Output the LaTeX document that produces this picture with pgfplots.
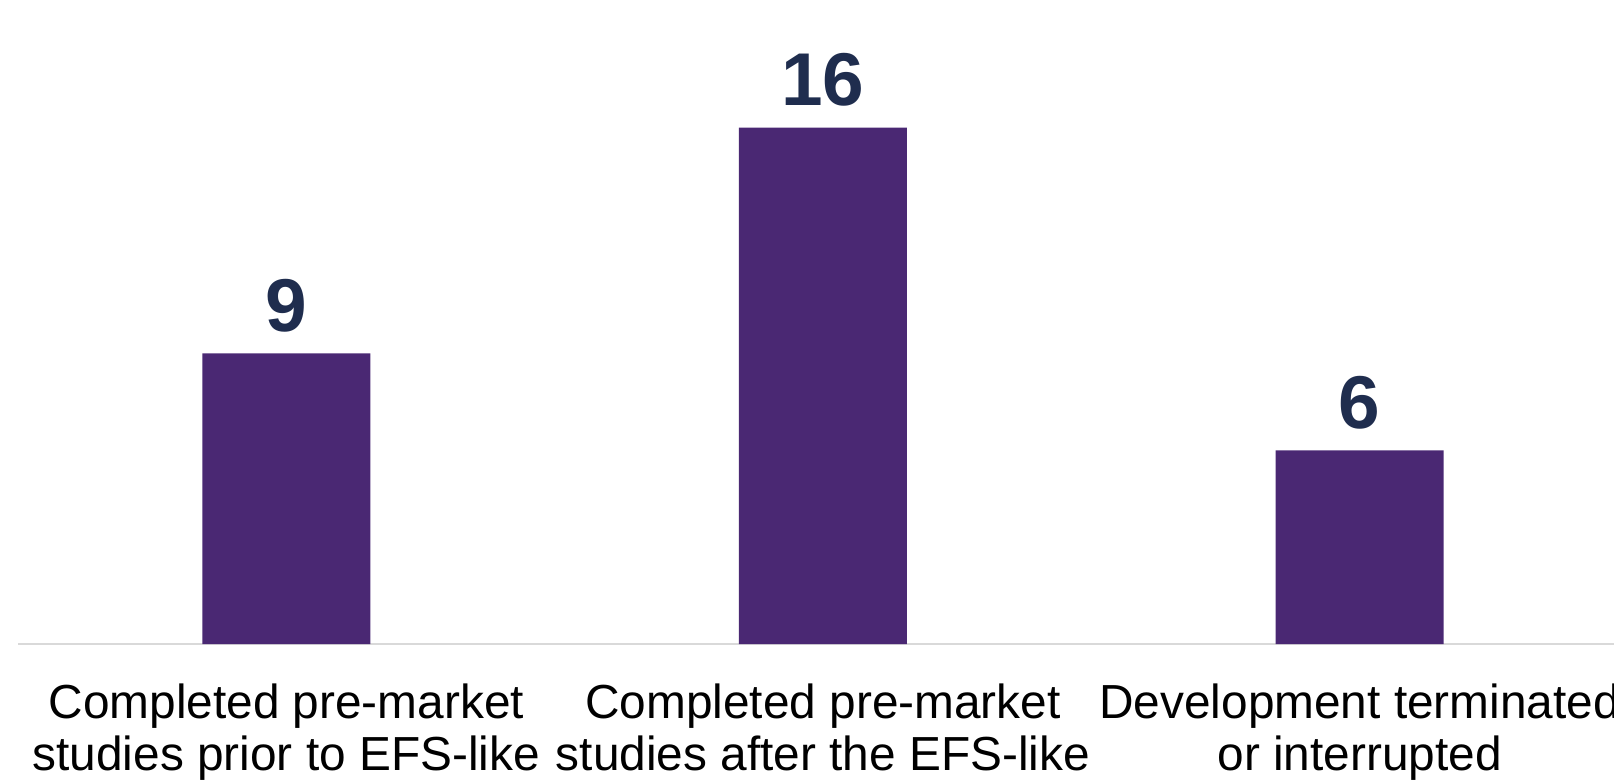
\documentclass[border=0pt]{standalone}
\usepackage{pgfplots}
\pgfplotsset{compat=1.18}
\usepackage{fontspec}
\setmainfont{Liberation Sans}
\definecolor{barpurple}{HTML}{4A2873}
\definecolor{navy}{HTML}{1F2D4E}
\definecolor{axisgrey}{HTML}{D9D9D9}
\begin{document}
\begin{tikzpicture}
\useasboundingbox (-9pt,-69.5pt) rectangle (798pt,322pt);
\begin{axis}[
  at={(0pt,0pt)}, anchor=south west,
  scale only axis,
  width=798pt, height=322pt,
  xmin=-0.5, xmax=2.474,
  ymin=0, ymax=19.95,
  enlargelimits=false,
  ybar, bar width=84pt,
  axis x line=bottom, axis y line=none,
  x axis line style={-, draw=axisgrey, line width=1.4pt},
  xtick={0,1,2},
  xticklabels={{Completed pre-market\\studies prior to EFS-like},{Completed pre-market\\studies after the EFS-like},{Development terminated\\or interrupted}},
  major tick length=0pt,
  xticklabel style={align=center, font=\fontsize{23.9}{25.7}\selectfont, text=black, yshift=-16.5pt},
  ytick=\empty,
  /pgf/number format/assume math mode=true,
  nodes near coords,
  every node near coord/.append style={font=\fontsize{37.4}{40}\selectfont\bfseries, text=navy, yshift=7pt},
]
\addplot[fill=barpurple, draw=none] coordinates {(0,9) (1,16) (2,6)};
\end{axis}
\end{tikzpicture}
\end{document}
